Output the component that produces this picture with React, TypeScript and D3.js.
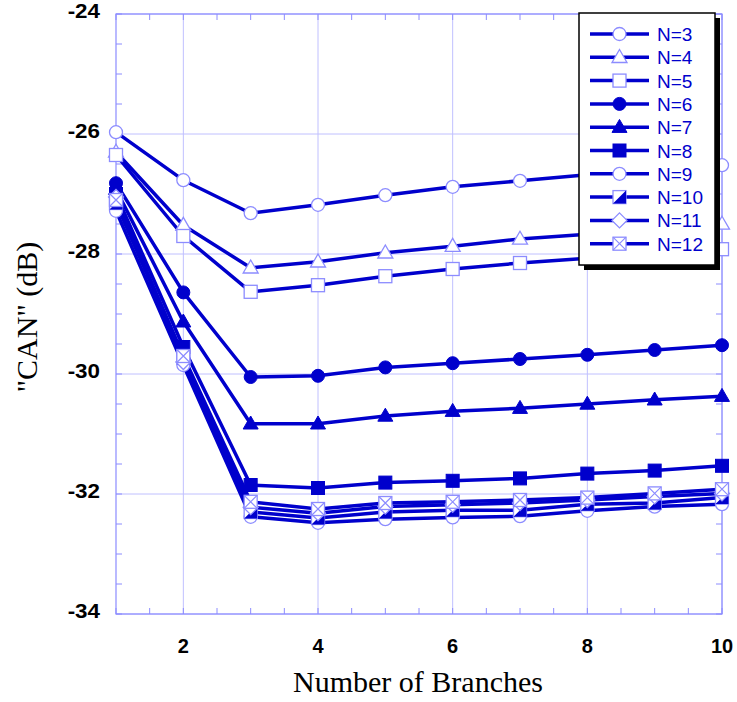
import React from "react";
import * as d3 from "d3";

const branches = [1, 2, 3, 4, 5, 6, 7, 8, 9, 10];
const n3 = [-25.97, -26.77, -27.32, -27.18, -27.02, -26.88, -26.78, -26.68, -26.6, -26.52];
const n4 = [-26.3, -27.52, -28.23, -28.13, -27.98, -27.87, -27.75, -27.67, -27.58, -27.5];
const n5 = [-26.35, -27.7, -28.63, -28.52, -28.37, -28.25, -28.15, -28.07, -27.98, -27.92];
const n6 = [-26.82, -28.64, -30.05, -30.03, -29.89, -29.82, -29.75, -29.68, -29.6, -29.52];
const n7 = [-26.92, -29.13, -30.83, -30.83, -30.7, -30.62, -30.57, -30.5, -30.43, -30.37];
const n8 = [-27.0, -29.55, -31.85, -31.9, -31.81, -31.78, -31.74, -31.66, -31.61, -31.53];
const n9 = [-27.28, -29.85, -32.38, -32.48, -32.42, -32.39, -32.37, -32.28, -32.21, -32.17];
const n10 = [-27.15, -29.73, -32.3, -32.4, -32.3, -32.27, -32.27, -32.17, -32.15, -32.06];
const n11 = [-27.05, -29.8, -32.22, -32.32, -32.21, -32.18, -32.15, -32.1, -32.04, -31.99];
const n12 = [-27.1, -29.7, -32.13, -32.25, -32.15, -32.13, -32.1, -32.06, -31.99, -31.92];

const seriesNames = ["N=3", "N=4", "N=5", "N=6", "N=7", "N=8", "N=9", "N=10", "N=11", "N=12"];
const seriesValues = [n3, n4, n5, n6, n7, n8, n9, n10, n11, n12];
const seriesMarkers = [
  "circleOpen", "triangleOpen", "squareOpen", "circle", "triangle",
  "square", "circleOpen", "halfSquare", "diamondOpen", "squareX",
];

const yTicks = [-24, -26, -28, -30, -32, -34];
const xTicks = [2, 4, 6, 8, 10];

const BLUE = "#0000cc";
const LIGHT = "#8c8cff";
const GRID = "#c0c0ff";

function Marker({ type, x, y }: { type: string; x: number; y: number }) {
  const s = 6.5;
  switch (type) {
    case "circleOpen":
      return <circle cx={x} cy={y} r={s} fill="#fff" stroke={LIGHT} strokeWidth={1.3} />;
    case "circle":
      return <circle cx={x} cy={y} r={s} fill={BLUE} stroke={BLUE} strokeWidth={1} />;
    case "triangleOpen":
    case "triangle": {
      const h = 13;
      const w = 15;
      const pts = `${x},${y - h * 0.6} ${x + w / 2},${y + h * 0.4} ${x - w / 2},${y + h * 0.4}`;
      return type === "triangle" ? (
        <polygon points={pts} fill={BLUE} stroke={BLUE} strokeWidth={1} />
      ) : (
        <polygon points={pts} fill="#fff" stroke={LIGHT} strokeWidth={1.3} />
      );
    }
    case "squareOpen":
      return <rect x={x - s} y={y - s} width={2 * s} height={2 * s} fill="#fff" stroke={LIGHT} strokeWidth={1.3} />;
    case "square":
      return <rect x={x - s} y={y - s} width={2 * s} height={2 * s} fill={BLUE} stroke={BLUE} strokeWidth={1} />;
    case "halfSquare":
      return (
        <g>
          <rect x={x - s} y={y - s} width={2 * s} height={2 * s} fill="#fff" stroke={LIGHT} strokeWidth={1.3} />
          <polygon points={`${x + s},${y - s} ${x + s},${y + s} ${x - s},${y + s}`} fill={BLUE} />
        </g>
      );
    case "diamondOpen": {
      const d = 7.5;
      return (
        <polygon points={`${x},${y - d} ${x + d},${y} ${x},${y + d} ${x - d},${y}`} fill="#fff" stroke={LIGHT} strokeWidth={1.3} />
      );
    }
    case "squareX":
      return (
        <g>
          <rect x={x - s} y={y - s} width={2 * s} height={2 * s} fill="#fff" stroke={LIGHT} strokeWidth={1.3} />
          <path d={`M${x - s},${y - s}L${x + s},${y + s}M${x + s},${y - s}L${x - s},${y + s}`} stroke={LIGHT} strokeWidth={1.2} />
        </g>
      );
    default:
      return null;
  }
}

export default function App() {
  const W = 737;
  const H = 702;
  const x = d3.scaleLinear().domain([1, 10]).range([116, 722]);
  const y = d3.scaleLinear().domain([-34, -24]).range([614, 14]);
  const line = d3
    .line<number>()
    .x((_, i) => x(branches[i]))
    .y((d) => y(d));

  const minorX = d3.range(1, 10.01, 0.5);
  const minorY = d3.range(-34, -23.99, 0.5);
  const tl = 6;

  const lgX = 579;
  const lgY = 13;
  const lgW = 136;
  const lgH = 252;
  const rowH = 23.3;

  return (
    <svg width={W} height={H} style={{ position: "absolute", left: 0, top: 0, background: "#fff" }}>
      <rect width={W} height={H} fill="#fff" />
      {/* grid */}
      {xTicks.map((t) => (
        <line key={"gx" + t} x1={x(t)} x2={x(t)} y1={y(-24)} y2={y(-34)} stroke={GRID} strokeWidth={1} />
      ))}
      {yTicks.map((t) => (
        <line key={"gy" + t} x1={x(1)} x2={x(10)} y1={y(t)} y2={y(t)} stroke={GRID} strokeWidth={1} />
      ))}
      {/* minor ticks */}
      {minorX.map((t) => (
        <g key={"mx" + t}>
          <line x1={x(t)} x2={x(t)} y1={y(-34)} y2={y(-34) - tl} stroke={LIGHT} strokeWidth={1} />
          <line x1={x(t)} x2={x(t)} y1={y(-24)} y2={y(-24) + tl} stroke={LIGHT} strokeWidth={1} />
        </g>
      ))}
      {minorY.map((t) => (
        <g key={"my" + t}>
          <line x1={x(1)} x2={x(1) + tl} y1={y(t)} y2={y(t)} stroke={LIGHT} strokeWidth={1} />
          <line x1={x(10)} x2={x(10) - tl} y1={y(t)} y2={y(t)} stroke={LIGHT} strokeWidth={1} />
        </g>
      ))}
      {/* frame */}
      <rect x={x(1)} y={y(-24)} width={x(10) - x(1)} height={y(-34) - y(-24)} fill="none" stroke={LIGHT} strokeWidth={1.2} />

      {/* tick labels */}
      {yTicks.map((t) => (
        <text key={"yl" + t} x={100} y={y(t) + 4.5} textAnchor="end" fontFamily="Liberation Sans, Arial, sans-serif" fontWeight="bold" fontSize={20} fill="#000" transform={`translate(100,0) scale(1.12,1) translate(-100,0)`}>
          {t}
        </text>
      ))}
      {xTicks.map((t) => (
        <text key={"xl" + t} x={x(t)} y={653} textAnchor="middle" fontFamily="Liberation Sans, Arial, sans-serif" fontWeight="bold" fontSize={20} fill="#000">
          {t}
        </text>
      ))}
      {/* axis titles */}
      <text x={418} y={692} textAnchor="middle" fontFamily="Liberation Serif, Times New Roman, serif" fontSize={30} fill="#000">
        Number of Branches
      </text>
      <text transform={`translate(37,317) rotate(-90)`} textAnchor="middle" fontFamily="Liberation Serif, Times New Roman, serif" fontSize={30} fill="#000">
        "CAN" (dB)
      </text>

      {/* lines */}
      {seriesValues.map((vals, si) => (
        <path key={"l" + si} d={line(vals) || ""} fill="none" stroke={BLUE} strokeWidth={3.5} strokeLinejoin="round" />
      ))}
      {seriesValues.map((vals, si) => (
        <g key={"m" + si}>
          {vals.map((v, i) => (
            <Marker key={i} type={seriesMarkers[si]} x={x(branches[i])} y={y(v)} />
          ))}
        </g>
      ))}

      {/* legend */}
      <rect x={lgX + 5} y={lgY + 5} width={lgW} height={lgH} fill="#000" />
      <rect x={lgX} y={lgY} width={lgW} height={lgH} fill="#fff" stroke="#000" strokeWidth={1.5} />
      {seriesNames.map((name, i) => {
        const cy = lgY + 21 + i * rowH;
        return (
          <g key={"lg" + i}>
            <line x1={590} x2={649} y1={cy} y2={cy} stroke={BLUE} strokeWidth={3.5} />
            <Marker type={seriesMarkers[i]} x={619.5} y={cy} />
            <text x={657} y={cy + 7} fontFamily="Liberation Sans, Arial, sans-serif" fontSize={19} fill={BLUE}>
              {name}
            </text>
          </g>
        );
      })}
    </svg>
  );
}
